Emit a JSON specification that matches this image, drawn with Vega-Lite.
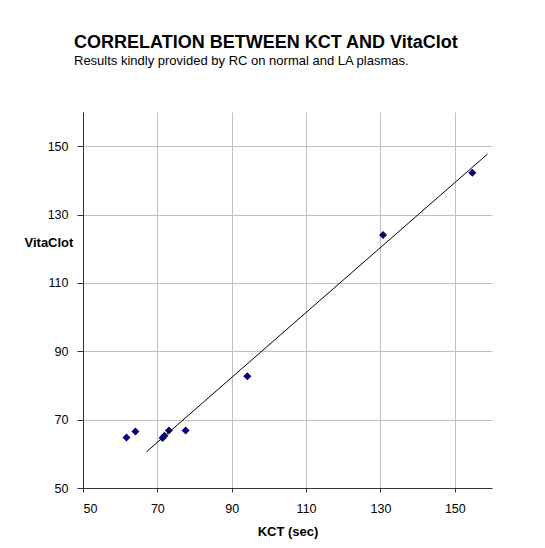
{
  "$schema": "https://vega.github.io/schema/vega-lite/v6.json",
  "autosize": {"type": "none"},
  "padding": {"left": 83, "top": 112, "right": 53, "bottom": 60},
  "width": 409,
  "height": 376,
  "background": "white",
  "title": {
    "text": "CORRELATION BETWEEN KCT AND VitaClot",
    "subtitle": "Results kindly provided by RC on normal and LA plasmas.",
    "anchor": "start",
    "frame": "group",
    "dx": -9,
    "offset": 44,
    "font": "Liberation Sans",
    "fontSize": 18,
    "fontWeight": "bold",
    "color": "black",
    "subtitleFont": "Liberation Sans",
    "subtitleFontSize": 13,
    "subtitleColor": "black",
    "subtitlePadding": 3
  },
  "datasets": {
    "points": [
      {"KCT": 61.7, "VitaClot": 64.8},
      {"KCT": 64.1, "VitaClot": 66.5},
      {"KCT": 71.4, "VitaClot": 64.6},
      {"KCT": 71.9, "VitaClot": 65.3},
      {"KCT": 73.1, "VitaClot": 66.8},
      {"KCT": 77.6, "VitaClot": 66.8},
      {"KCT": 94.2, "VitaClot": 82.7},
      {"KCT": 130.7, "VitaClot": 124.0},
      {"KCT": 154.7, "VitaClot": 142.2}
    ],
    "trend": [
      {"KCT": 67.1, "VitaClot": 60.6},
      {"KCT": 158.8, "VitaClot": 147.7}
    ]
  },
  "config": {
    "view": {"stroke": null},
    "axis": {
      "labelFont": "Liberation Sans",
      "labelFontSize": 12.5,
      "labelColor": "black",
      "titleFont": "Liberation Sans",
      "titleFontSize": 13,
      "titleFontWeight": "bold",
      "titleColor": "black",
      "domainColor": "#333333",
      "tickColor": "#333333",
      "gridColor": "#c0c0c0",
      "gridWidth": 1
    }
  },
  "layer": [
    {
      "data": {"name": "points"},
      "mark": {"type": "point", "shape": "diamond", "filled": true, "size": 64, "color": "#000080", "opacity": 1},
      "encoding": {
        "x": {
          "field": "KCT",
          "type": "quantitative",
          "scale": {"domain": [50, 160], "nice": false, "zero": false},
          "axis": {
            "title": "KCT (sec)",
            "values": [50, 70, 90, 110, 130, 150],
            "tickSize": 4,
            "labelPadding": 10,
            "titlePadding": 11,
            "grid": true
          }
        },
        "y": {
          "field": "VitaClot",
          "type": "quantitative",
          "scale": {"domain": [50, 160], "nice": false, "zero": false},
          "axis": {
            "title": "VitaClot",
            "values": [50, 70, 90, 110, 130, 150],
            "tickSize": 6,
            "labelPadding": 9,
            "titleAngle": 0,
            "titleAlign": "left",
            "titleBaseline": "alphabetic",
            "titleX": -59,
            "titleY": 134,
            "grid": true
          }
        }
      }
    },
    {
      "data": {"name": "trend"},
      "mark": {"type": "line", "color": "black", "strokeWidth": 1},
      "encoding": {
        "x": {"field": "KCT", "type": "quantitative"},
        "y": {"field": "VitaClot", "type": "quantitative"}
      }
    }
  ]
}
